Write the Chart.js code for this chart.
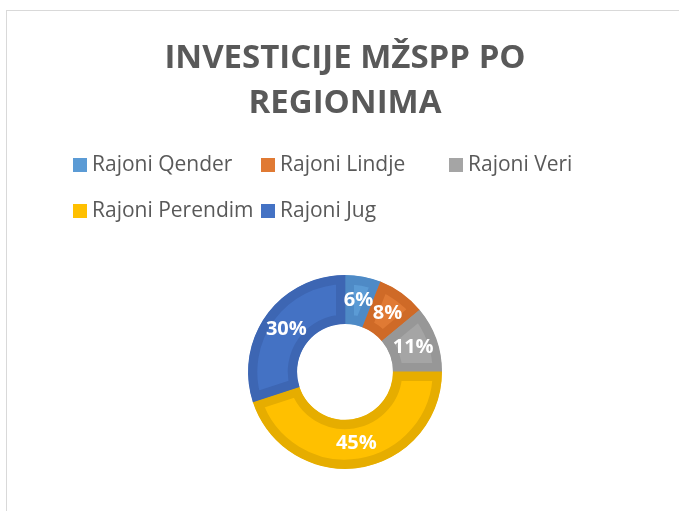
<!DOCTYPE html>
<html>
<head>
<meta charset="utf-8">
<script src="https://cdn.jsdelivr.net/npm/chart.js@4"></script>
<style>
  html, body { margin: 0; padding: 0; background: #fff; overflow: hidden; }
  #wrap { position: relative; width: 679px; height: 511px; }
  #frame { position: absolute; left: 6px; top: 10px; width: 700px; height: 520px; border: 1px solid #d9d9d9; box-sizing: border-box; }
  #chart { position: absolute; left: 0; top: 0; }
  .leg { position: absolute; font-family: "Open Sans", sans-serif; font-size: 21px; color: #595959; white-space: nowrap; line-height: 24px; }
  .leg span.box { display: inline-block; width: 14px; height: 14px; margin-right: 5px; vertical-align: -1px; }
</style>
</head>
<body>
<div id="wrap">
  <div id="frame"></div>
  <canvas id="chart" width="679" height="511"></canvas>
  <div id="legend"></div>
</div>
<script>
const titleLines = ["INVESTICIJE MŽSPP PO", "REGIONIMA"];
const regions = ["Rajoni Qender", "Rajoni Lindje", "Rajoni Veri", "Rajoni Perendim", "Rajoni Jug"];
const shares = [6, 8, 11, 45, 30];
const fillColors = ["#5b9bd5", "#e07a34", "#a5a5a5", "#ffc000", "#4472c4"];
const rimColors = ["#4e8ac6", "#cf6a27", "#979797", "#e6ad00", "#3d66b3"];

// legend laid out as a grid, like the original
const legend = document.getElementById("legend");
const cols = [73, 261, 449];
const rows = [151, 197];
regions.forEach((name, i) => {
  const item = document.createElement("div");
  item.className = "leg";
  item.style.left = cols[i % 3] + "px";
  item.style.top = rows[Math.floor(i / 3)] + "px";
  item.innerHTML = '<span class="box" style="background:' + fillColors[i] + '"></span>' + name;
  legend.appendChild(item);
});

// percentage labels in the middle of each ring slice
const sliceLabels = {
  id: "sliceLabels",
  afterDatasetsDraw(chart) {
    const ctx = chart.ctx;
    const meta = chart.getDatasetMeta(0);
    ctx.save();
    ctx.fillStyle = "#ffffff";
    ctx.font = "bold 20px 'Open Sans', sans-serif";
    ctx.textAlign = "center";
    ctx.textBaseline = "middle";
    meta.data.forEach((arc, i) => {
      const p = arc.tooltipPosition();
      ctx.fillText(shares[i] + "%", p.x, p.y);
    });
    ctx.restore();
  }
};

new Chart(document.getElementById("chart"), {
  type: "doughnut",
  data: {
    labels: regions,
    datasets: [{
      data: shares,
      backgroundColor: fillColors,
      borderColor: rimColors,
      borderWidth: 9,
      borderAlign: "inner"
    }]
  },
  options: {
    responsive: false,
    animation: false,
    radius: 97,
    cutout: 48,
    layout: { padding: { left: 11, right: 0, top: 0, bottom: 42 } },
    plugins: {
      legend: { display: false },
      tooltip: { enabled: false },
      title: {
        display: true,
        text: titleLines,
        color: "#595959",
        font: { family: "'Open Sans', sans-serif", size: 33, weight: "bold", lineHeight: 1.36 },
        padding: { top: 36, bottom: 149 }
      }
    }
  },
  plugins: [sliceLabels]
});
</script>
</body>
</html>
